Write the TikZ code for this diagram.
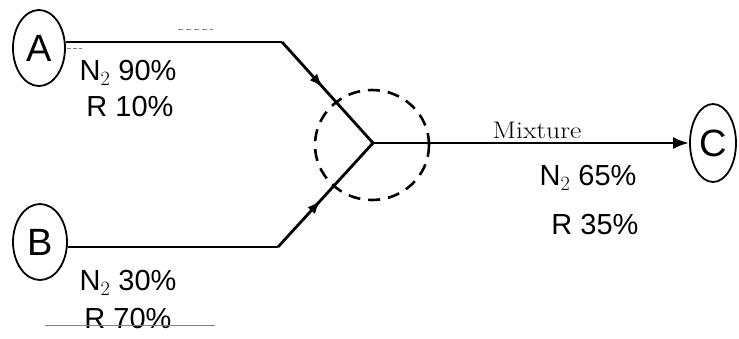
\documentclass[tikz,border=0pt]{standalone}
\usepackage{fontspec}
\newfontfamily\hand{Liberation Sans}
\usetikzlibrary{arrows.meta,decorations.markings,shapes.geometric}
\begin{document}
\begin{tikzpicture}[x=1pt,y=-1pt,
  stream/.style={line width=2.8pt, line join=miter},
  tank/.style={draw, line width=1.8pt, ellipse, inner sep=0pt},
  hw/.style={font=\hand\fontsize{29}{31}\selectfont, inner sep=0pt, align=center},
  tlabel/.style={font=\hand\fontsize{38}{40}\selectfont},
  midarrow/.style={postaction={decorate, decoration={markings,
      mark=at position #1 with {\arrow{Latex[length=14pt,width=10pt]}}}}},
  mixcircle/.style={draw, line width=2.6pt, dash pattern=on 12pt off 8pt}]
\useasboundingbox (0,0) rectangle (739,338);
% tanks
\node[tank, minimum width=52pt, minimum height=76pt] (A) at (39,48) {};
\node[tlabel] at (A.center) {A};
\node[tank, minimum width=54pt, minimum height=76pt] (B) at (40,242) {};
\node[tlabel] at (B.center) {B};
\node[tank, minimum width=46pt, minimum height=78pt] (C) at (713,143) {};
\node[tlabel] at (C.center) {C};
% junction
\coordinate (J) at (373,143);
\coordinate (a1) at (282,42);
\coordinate (b1) at (278,247);
\node[mixcircle, ellipse, minimum width=114pt, minimum height=110pt] (M) at (372,145) {};
% streams
\draw[stream] (A.east |- a1) -- (a1);
\draw[stream, midarrow=0.45] (a1) -- (J);
\draw[stream] (B.east |- b1) -- (b1);
\draw[stream, midarrow=0.45] (b1) -- (J);
\draw[stream, -{Latex[length=16pt,width=12pt]}] (J) -- (C.west);
% labels
\node[font=\fontsize{24}{26}\selectfont, xscale=1.15, anchor=base] (mix) at (537,138) {Mixture};
\node[hw] (ta1) at (128,73) {N$_{\mathrm 2}$ 90\%};
\node[hw] (ta2) at (130,107) {R 10\%};
\node[hw] (tb1) at (128,283) {N$_{\mathrm 2}$ 30\%};
\node[hw] (tb2) at (128,319) {R 70\%};
\node[hw] (tc1) at (588,178) {N$_{\mathrm 2}$ 65\%};
\node[hw] (tc2) at (595,225) {R 35\%};
% strike line and marks
\coordinate (s1) at (45,325);
\coordinate (s2) at (215,325);
\draw[line width=1pt, gray] (s1) -- (s2);
\coordinate (d1) at (178,29);
\coordinate (d2) at (213,29);
\draw[line width=0.8pt, gray, dash pattern=on 5pt off 3pt] (d1) -- (d2);
\coordinate (e1) at (67,48);
\coordinate (e2) at (82,48);
\draw[line width=0.8pt, gray, dash pattern=on 4pt off 2pt] (e1) -- (e2);
\end{tikzpicture}
\end{document}
